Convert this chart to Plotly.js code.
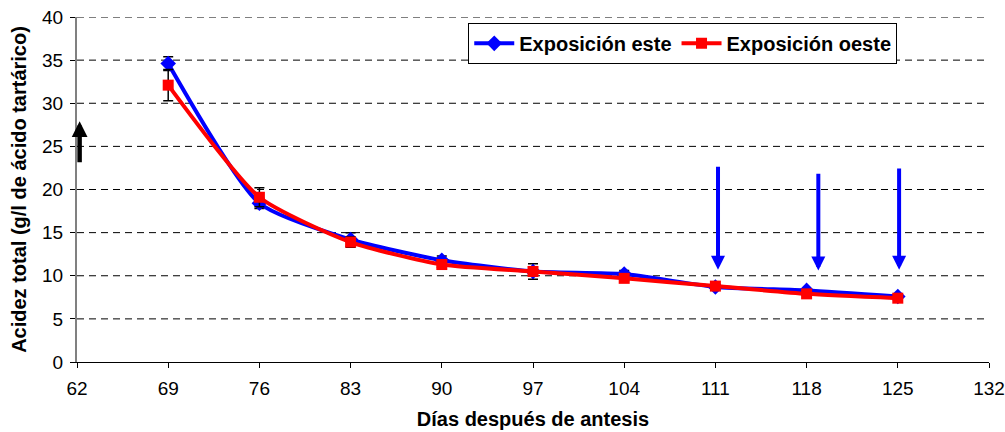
<!DOCTYPE html>
<html>
<head>
<meta charset="utf-8">
<script src="https://cdn.plot.ly/plotly-3.0.1.min.js"></script>
<style>html,body{margin:0;padding:0;background:#fff;}#chart{width:1005px;height:432px;}</style>
</head>
<body>
<div id="chart"></div>
<script>
const days = [69, 76, 83, 90, 97, 104, 111, 118, 125];
const este = [34.6, 18.4, 14.2, 11.8, 10.5, 10.2, 8.7, 8.3, 7.6];
const esteErr = [0.8, 0.6, 0.8, 0.5, 0.9, 0.4, 0.2, 0.2, 0.2];
const oeste = [32.1, 19.1, 13.9, 11.3, 10.5, 9.7, 8.8, 7.9, 7.4];
const oesteErr = [1.8, 1.1, 0.6, 0.3, 0.5, 0.3, 0.2, 0.2, 0.2];
const xTicks = [62, 69, 76, 83, 90, 97, 104, 111, 118, 125, 132];
const yTicks = [0, 5, 10, 15, 20, 25, 30, 35, 40];
const gridVals = [5, 10, 15, 20, 25, 30, 35, 40];
// harvest arrows (blue): day, top, tip
const blueArrowX = [111.2, 118.9, 125.1];
const blueArrowTop = [22.8, 22.0, 22.6];
const blueArrowTip = [10.7, 10.6, 10.7];
// black arrow
const blackArrowX = [62.2];
const blackArrowBottom = [23.0];
const blackArrowTip = [27.9];

const traces = [
  {
    x: days, y: este, name: 'Exposición este', type: 'scatter', mode: 'lines+markers',
    line: {color: '#0000FF', width: 4, shape: 'spline', smoothing: 0.6},
    marker: {symbol: 'diamond', size: 12, color: '#0000FF'},
    error_y: {type: 'data', array: esteErr, visible: true, color: '#000', thickness: 1.5, width: 5}
  },
  {
    x: days, y: oeste, name: 'Exposición oeste', type: 'scatter', mode: 'lines+markers',
    line: {color: '#FF0000', width: 4, shape: 'spline', smoothing: 0.6},
    marker: {symbol: 'square', size: 11, color: '#FF0000'},
    error_y: {type: 'data', array: oesteErr, visible: true, color: '#000', thickness: 1.5, width: 5}
  }
];

const shapes = gridVals.map(v => ({
  type: 'line', xref: 'paper', x0: 0, x1: 1, yref: 'y', y0: v, y1: v,
  line: {color: '#000', width: 1, dash: '7px,5px'}, layer: 'below'
}));

const annotations = [];
blueArrowX.forEach((xv, i) => {
  annotations.push({
    x: xv, y: blueArrowTip[i], ax: xv, ay: blueArrowTop[i],
    xref: 'x', yref: 'y', axref: 'x', ayref: 'y', text: '',
    showarrow: true, arrowhead: 2, arrowsize: 0.7, arrowwidth: 4, arrowcolor: '#0000FF'
  });
});
blackArrowX.forEach((xv, i) => {
  annotations.push({
    x: xv, y: blackArrowTip[i], ax: xv, ay: blackArrowBottom[i],
    xref: 'x', yref: 'y', axref: 'x', ayref: 'y', text: '',
    showarrow: true, arrowhead: 2, arrowsize: 0.7, arrowwidth: 4.5, arrowcolor: '#000'
  });
});

const layout = {
  width: 1005, height: 432,
  margin: {l: 77, r: 16, t: 17, b: 70},
  paper_bgcolor: '#fff', plot_bgcolor: '#fff',
  font: {family: 'Liberation Sans, Arial, sans-serif', color: '#000', size: 19},
  showlegend: true,
  legend: {
    orientation: 'h', x: 0.429, y: 0.983, xanchor: 'left', yanchor: 'top',
    bgcolor: '#fff', bordercolor: '#000', borderwidth: 1,
    font: {family: 'Liberation Sans, Arial, sans-serif', size: 20, weight: 'bold'},
    itemwidth: 40, tracegroupgap: 0
  },
  xaxis: {
    range: [62, 132], tickvals: xTicks, ticktext: xTicks.map(String),
    showgrid: false, zeroline: false, showline: true, linecolor: '#000', linewidth: 1,
    ticks: 'outside', ticklen: 5, tickcolor: '#000', ticklabelstandoff: 4,
    tickfont: {size: 19},
    title: {text: 'Días después de antesis', font: {size: 20, weight: 'bold'}, standoff: 14}
  },
  yaxis: {
    range: [0, 40], tickvals: yTicks, ticktext: yTicks.map(String),
    showgrid: false, zeroline: false, showline: true, linecolor: '#808080', linewidth: 2,
    ticks: 'outside', ticklen: 5, tickcolor: '#000', ticklabelstandoff: 3,
    tickfont: {size: 19},
    title: {text: 'Acidez total (g/l de ácido tartárico)', font: {size: 20, weight: 'bold'}, standoff: 10}
  },
  shapes: shapes,
  annotations: annotations
};

Plotly.newPlot('chart', traces, layout, {displayModeBar: false, staticPlot: true});
</script>
</body>
</html>
